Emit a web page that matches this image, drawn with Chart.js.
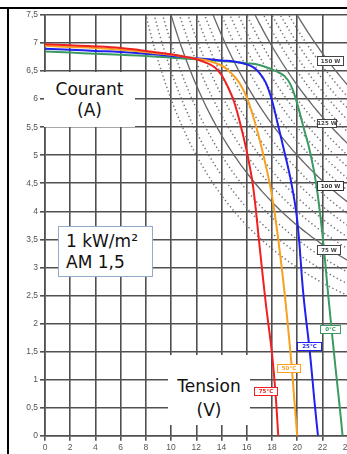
<!DOCTYPE html>
<html>
<head>
<meta charset="utf-8">
<title>Courbes I-V</title>
<style>
  body { margin: 0; overflow: hidden; background: #fff; }
  #wrap { position: absolute; left: 0; top: 0; width: 362px; height: 454px; }
  .frame { position: absolute; background: #000; }
  .note {
    position: absolute;
    box-sizing: border-box;
    background: #fff;
    font-family: "DejaVu Sans", sans-serif;
    font-size: 17px;
    color: #111;
    white-space: nowrap;
  }
</style>
</head>
<body>
  <div id="wrap"><canvas id="chart" width="362" height="454"></canvas></div>
  <div class="frame" style="left:0;top:7px;width:347px;height:2px;"></div>
  <div class="frame" style="left:7px;top:7px;width:2px;height:447px;"></div>
  <div class="note" style="left:44px;top:72px;width:91px;height:55px;padding-top:7px;line-height:21px;text-align:center;">Courant<br>(A)</div>
  <div class="note" style="left:168px;top:355px;width:82px;height:70px;padding-top:19px;line-height:24px;text-align:center;">Tension<br>(V)</div>
  <div class="note" style="left:58px;top:226px;width:95px;height:51px;padding:4px 0 0 7px;line-height:21px;border:1.5px solid #94aacb;">1 kW/m²<br>AM 1,5</div>
  <script src="https://cdn.jsdelivr.net/npm/chart.js"></script>
  <script>
    // Courbes I-V (1 kW/m², AM 1,5) pour 4 temperatures
    const xTicks = [0, 2, 4, 6, 8, 10, 12, 14, 16, 18, 20, 22, 24];
    const yTicks = [0, 0.5, 1, 1.5, 2, 2.5, 3, 3.5, 4, 4.5, 5, 5.5, 6, 6.5, 7, 7.5];

    const tempLabels = ["0°C", "25°C", "50°C", "75°C"];

    const v0 = [0, 2, 4, 6, 8, 10, 12, 14, 16, 17, 18, 18.5, 19, 19.5, 20, 20.5, 21, 21.5, 22, 22.5, 23, 23.4, 23.6];
    const i0 = [6.85, 6.83, 6.81, 6.79, 6.77, 6.74, 6.71, 6.68, 6.64, 6.61, 6.53, 6.48, 6.41, 6.25, 5.92, 5.5, 5.08, 4.5, 3.6, 2.42, 1.3, 0.46, 0];

    const v25 = [0, 2, 4, 6, 8, 10, 12, 14, 15, 16, 16.5, 17, 17.5, 18, 18.5, 19, 19.5, 20, 20.5, 21, 21.4, 21.65];
    const i25 = [6.9, 6.88, 6.86, 6.84, 6.81, 6.77, 6.73, 6.69, 6.67, 6.62, 6.57, 6.47, 6.3, 5.98, 5.52, 5.05, 4.55, 3.85, 2.5, 1.5, 0.55, 0];

    const v50 = [0, 2, 4, 6, 8, 10, 12, 13, 14, 14.5, 15, 15.5, 16, 16.5, 17, 17.5, 18, 18.5, 19, 19.5, 19.8, 20.0];
    const i50 = [6.95, 6.93, 6.91, 6.88, 6.84, 6.79, 6.72, 6.68, 6.6, 6.52, 6.41, 6.26, 6.03, 5.7, 5.3, 4.83, 4.28, 3.5, 2.55, 1.4, 0.57, 0];

    const v75 = [0, 2, 4, 6, 8, 10, 11, 12, 13, 13.5, 14, 14.5, 15, 15.5, 16, 16.5, 17, 17.5, 18, 18.3, 18.5];
    const i75 = [6.98, 6.96, 6.94, 6.91, 6.86, 6.80, 6.76, 6.71, 6.63, 6.56, 6.43, 6.22, 5.95, 5.55, 5.07, 4.45, 3.42, 2.38, 1.47, 0.7, 0];

    // courbes d'iso-puissance (W)
    const powerSolid = [75, 100, 125, 150];
    const powerDotted = [60, 65, 70, 80, 85, 90, 95, 105, 110, 115, 120, 130, 135, 140, 145];

    const toPoints = (vs, is) => vs.map((v, k) => ({ x: v, y: is[k] }));

    function isoPower(p) {
      const pts = [];
      for (let v = p / 7.8; v <= 24.6; v += 0.2) pts.push({ x: v, y: p / v });
      return pts;
    }

    const curveStyle = { borderWidth: 2, pointRadius: 0, fill: false, tension: 0.4 };

    const datasets = [
      { label: tempLabels[3], data: toPoints(v75, i75), borderColor: "#f02020", ...curveStyle },
      { label: tempLabels[2], data: toPoints(v50, i50), borderColor: "#f8a020", ...curveStyle },
      { label: tempLabels[1], data: toPoints(v25, i25), borderColor: "#2020f0", ...curveStyle },
      { label: tempLabels[0], data: toPoints(v0, i0), borderColor: "#3a9a60", ...curveStyle }
    ];
    powerSolid.forEach(p => datasets.push({
      label: p + " W", data: isoPower(p), borderColor: "#666", borderWidth: 1.3, pointRadius: 0, tension: 0
    }));
    powerDotted.forEach(p => datasets.push({
      label: p + " W", data: isoPower(p), borderColor: "#707070", borderWidth: 1.5, borderDash: [1.3, 2.7], pointRadius: 0, tension: 0
    }));

    // petites étiquettes encadrées
    const boxLabels = [
      { text: "150 W", x: 317, y: 56, w: 26, h: 9, color: "#444" },
      { text: "125 W", x: 317, y: 119, w: 19, h: 8, color: "#444" },
      { text: "100 W", x: 317, y: 181, w: 26, h: 9, color: "#333" },
      { text: "75 W", x: 317, y: 245, w: 23, h: 9, color: "#444" },
      { text: tempLabels[0], x: 320, y: 325, w: 20, h: 8, color: "#3a9a60" },
      { text: tempLabels[1], x: 297, y: 342, w: 24, h: 8, color: "#2020f0" },
      { text: tempLabels[2], x: 277, y: 364, w: 23, h: 8, color: "#f8a020" },
      { text: tempLabels[3], x: 254, y: 387, w: 23, h: 8, color: "#f02020" }
    ];

    const labelPlugin = {
      id: "boxLabels",
      afterDatasetsDraw(chart) {
        const ctx = chart.ctx;
        ctx.save();
        ctx.font = "bold 5.5px 'DejaVu Sans'";
        ctx.textAlign = "center";
        ctx.textBaseline = "middle";
        boxLabels.forEach(b => {
          ctx.fillStyle = "#fff";
          ctx.fillRect(b.x, b.y, b.w, b.h);
          ctx.strokeStyle = b.color;
          ctx.lineWidth = 1;
          ctx.strokeRect(b.x + 0.5, b.y + 0.5, b.w, b.h);
          ctx.fillStyle = b.color;
          ctx.fillText(b.text, b.x + b.w / 2 + 0.5, b.y + b.h / 2 + 1);
        });
        ctx.restore();
      }
    };

    new Chart(document.getElementById("chart"), {
      type: "line",
      data: { datasets },
      plugins: [labelPlugin],
      options: {
        responsive: false,
        animation: false,
        layout: { padding: { left: 0, top: 15, right: 14.4, bottom: 0 } },
        plugins: { legend: { display: false }, tooltip: { enabled: false } },
        scales: {
          x: {
            type: "linear",
            min: 0,
            max: 24,
            afterBuildTicks: s => { s.ticks = xTicks.map(v => ({ value: v })); },
            afterFit: s => { s.height = 18.3; },
            grid: { color: "#505050", lineWidth: 1.6, tickLength: 5 },
            border: { color: "#505050", width: 1.6 },
            ticks: { color: "#555", padding: 2, font: { family: "Liberation Sans", size: 8.5 } }
          },
          y: {
            type: "linear",
            min: 0,
            max: 7.5,
            afterBuildTicks: s => { s.ticks = yTicks.map(v => ({ value: v })); },
            afterFit: s => { s.width = 45; },
            grid: { color: "#505050", lineWidth: 1.6, tickLength: 5 },
            border: { color: "#505050", width: 1.6 },
            ticks: {
              color: "#555",
              padding: 2,
              font: { family: "Liberation Sans", size: 8.5 },
              callback: v => String(v).replace(".", ",")
            }
          }
        }
      }
    });
  </script>
</body>
</html>
